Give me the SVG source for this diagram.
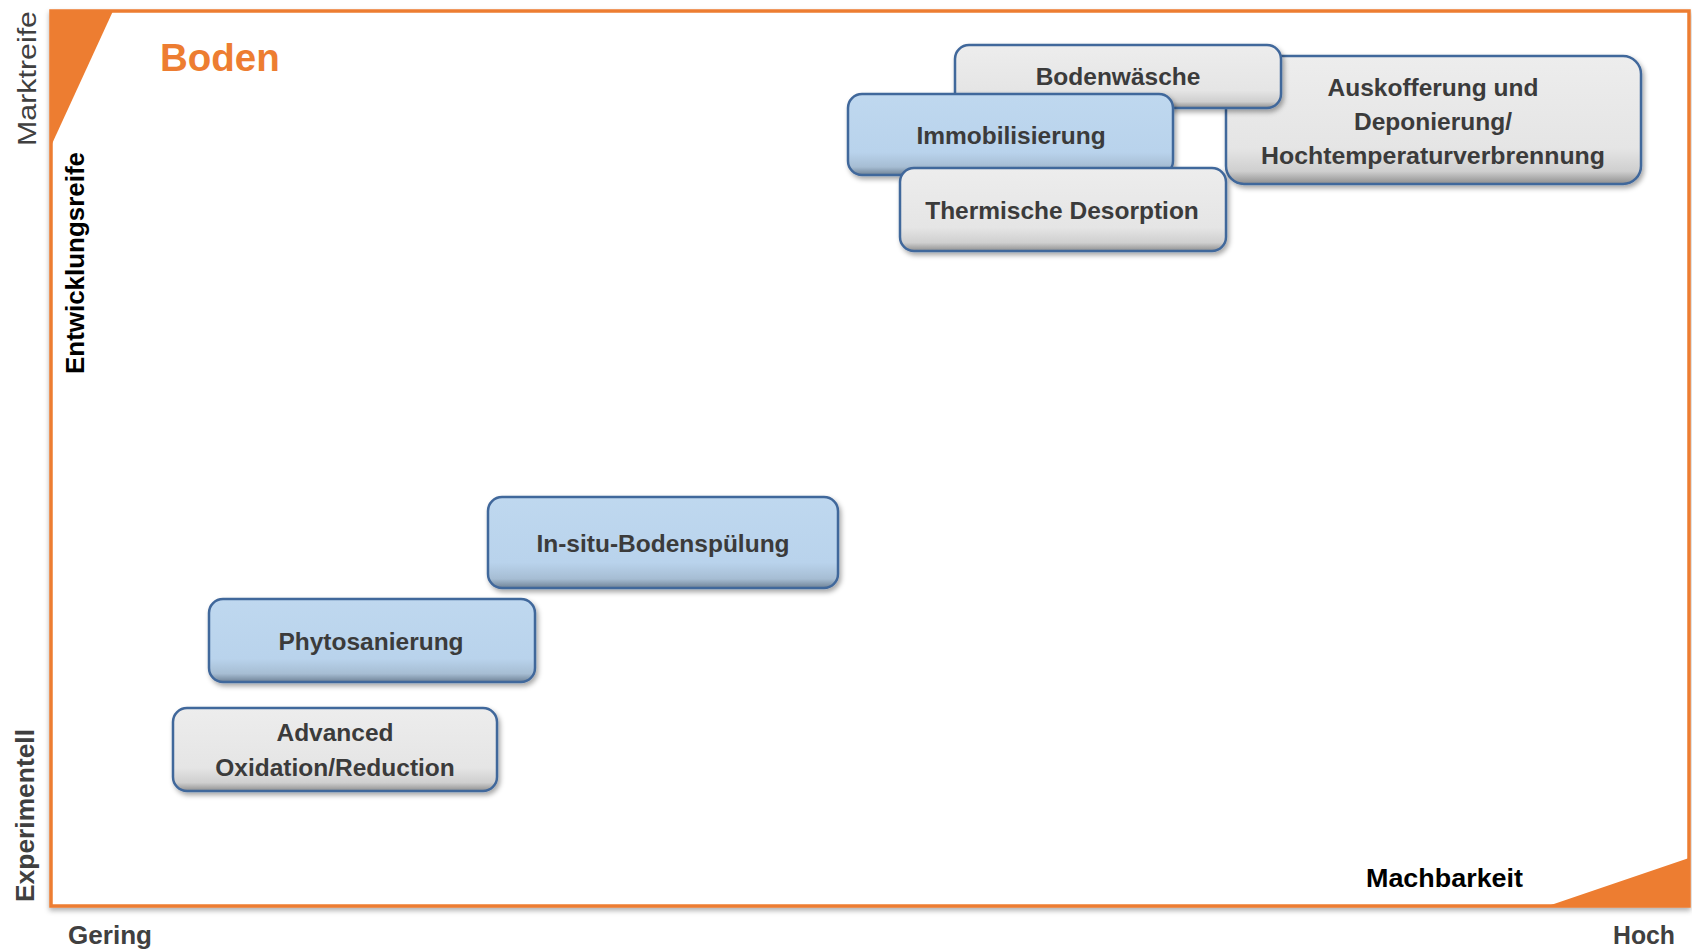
<svg xmlns="http://www.w3.org/2000/svg" width="1692" height="949" viewBox="0 0 1692 949">
<defs>
<linearGradient id="gGray" x1="0" y1="0" x2="0" y2="1">
<stop offset="0" stop-color="#ededed"/>
<stop offset="0.72" stop-color="#e5e5e5"/>
<stop offset="0.9" stop-color="#cfcfcf"/>
<stop offset="1" stop-color="#8f8f8f"/>
</linearGradient>
<linearGradient id="gBlue" x1="0" y1="0" x2="0" y2="1">
<stop offset="0" stop-color="#bfd8ef"/>
<stop offset="0.72" stop-color="#b9d3ec"/>
<stop offset="0.9" stop-color="#a6bdd3"/>
<stop offset="1" stop-color="#6f8296"/>
</linearGradient>
<filter id="sh" x="-10%" y="-20%" width="125%" height="150%">
<feDropShadow dx="2" dy="3" stdDeviation="2.5" flood-color="#000" flood-opacity="0.35"/>
</filter>
<filter id="fsh" x="-5%" y="-5%" width="110%" height="115%">
<feDropShadow dx="0" dy="3" stdDeviation="2.5" flood-color="#000" flood-opacity="0.3"/>
</filter>
<style>
.box rect{stroke:#41679b;stroke-width:2.5;filter:url(#sh)}
.gray rect{fill:url(#gGray)}
.blue rect{fill:url(#gBlue)}
.lbl{font-family:"Liberation Sans",Arial,sans-serif;font-weight:bold;font-size:24.5px;fill:#3b3b3b;text-anchor:middle}
.ax{font-family:"Liberation Sans",Arial,sans-serif;font-size:26px}
</style>
</defs>
<rect width="1692" height="949" fill="#fff"/>
<g id="frame">
<rect x="51" y="11" width="1638" height="895" fill="#fff" stroke="#ED7D31" stroke-width="3.5" filter="url(#fsh)"/>
<polygon points="51,11 113,11 51,146" fill="#ED7D31"/>
<polygon points="1548,906 1689,858 1689,906" fill="#ED7D31"/>
</g>
<g id="title"><text x="160" y="71" font-family="Liberation Sans,Arial,sans-serif" font-weight="bold" font-size="38.5" fill="#ED7D31">Boden</text></g>
<g id="axes">
<text class="ax" transform="translate(36,146) rotate(-90)" fill="#404040" textLength="135" lengthAdjust="spacingAndGlyphs">Marktreife</text>
<text class="ax" transform="translate(84,374) rotate(-90)" fill="#000" font-weight="bold" textLength="222" lengthAdjust="spacingAndGlyphs">Entwicklungsreife</text>
<text class="ax" transform="translate(34,902) rotate(-90)" fill="#404040" font-weight="bold" textLength="173" lengthAdjust="spacingAndGlyphs">Experimentell</text>
<text class="ax" x="68" y="944" fill="#404040" font-weight="bold" textLength="84" lengthAdjust="spacingAndGlyphs">Gering</text>
<text class="ax" x="1613" y="944" fill="#404040" font-weight="bold" textLength="62" lengthAdjust="spacingAndGlyphs">Hoch</text>
<text class="ax" x="1366" y="887" fill="#000" font-weight="bold" textLength="157" lengthAdjust="spacingAndGlyphs">Machbarkeit</text>
</g>
<g id="connectors"/>
<g id="n-auskofferung" class="box gray">
<rect x="1226" y="56" width="415" height="128" rx="18"/>
<text class="lbl" x="1433" y="96">Auskofferung und</text>
<text class="lbl" x="1433" y="130">Deponierung/</text>
<text class="lbl" x="1433" y="164" textLength="344" lengthAdjust="spacingAndGlyphs">Hochtemperaturverbrennung</text>
</g>
<g id="n-bodenwaesche" class="box gray">
<rect x="955" y="45" width="326" height="63" rx="14"/>
<text class="lbl" x="1118" y="85">Bodenwäsche</text>
</g>
<g id="n-immobilisierung" class="box blue">
<rect x="848" y="94" width="325" height="81" rx="14"/>
<text class="lbl" x="1011" y="144">Immobilisierung</text>
</g>
<g id="n-thermische" class="box gray">
<rect x="900" y="168" width="326" height="83" rx="14"/>
<text class="lbl" x="1062" y="219">Thermische Desorption</text>
</g>
<g id="n-insitu" class="box blue">
<rect x="488" y="497" width="350" height="91" rx="14"/>
<text class="lbl" x="663" y="552">In-situ-Bodenspülung</text>
</g>
<g id="n-phyto" class="box blue">
<rect x="209" y="599" width="326" height="83" rx="14"/>
<text class="lbl" x="371" y="650">Phytosanierung</text>
</g>
<g id="n-advanced" class="box gray">
<rect x="173" y="708" width="324" height="83" rx="14"/>
<text class="lbl" x="335" y="741">Advanced</text>
<text class="lbl" x="335" y="776">Oxidation/Reduction</text>
</g>
</svg>
